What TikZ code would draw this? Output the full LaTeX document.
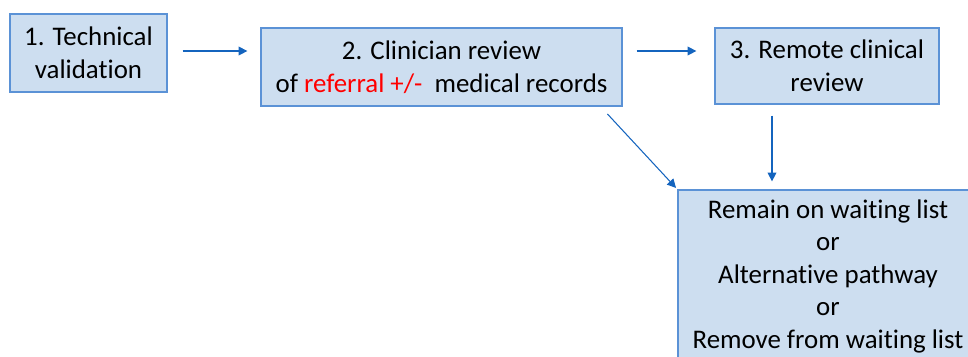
\documentclass[tikz,border=0pt]{standalone}
\usepackage{fontspec}
\setmainfont[Ligatures=NoCommon]{Carlito}
\usetikzlibrary{arrows.meta,calc}
\definecolor{boxfill}{RGB}{205,222,240}
\definecolor{boxline}{RGB}{91,146,214}
\definecolor{arrowblue}{RGB}{20,100,190}
\tikzset{
  stagebox/.style={draw=boxline, line width=0.7pt, fill=boxfill, inner sep=0pt, align=center,
    font=\fontsize{15.3}{18.5}\selectfont},
  flow/.style={draw=arrowblue, line width=0.6pt, -{Triangle[width=5pt,length=5pt]}}
}
\begin{document}
\begin{tikzpicture}[x=0.02cm, y=-0.02cm]
\useasboundingbox (0,0) rectangle (968,356);
\clip (0,0) rectangle (968,356);
\node[stagebox, minimum width=157*0.02cm, minimum height=78*0.02cm] (b1) at (88.5, 53) {1. Technical\\validation};
\node[stagebox, minimum width=361*0.02cm, minimum height=78*0.02cm] (b2) at (441.5, 67) {2. Clinician review\\of \textcolor{red}{referral +/-}\ \ medical records};
\node[stagebox, minimum width=224*0.02cm, minimum height=76*0.02cm] (b3) at (827, 66) {3. Remote clinical\\review};
\node[stagebox, minimum width=300*0.02cm, minimum height=172*0.02cm] (b4) at (828, 276) {Remain on waiting list\\or\\Alternative pathway\\or\\Remove from waiting list};
% connectors
\coordinate (v3) at ($(b3.south)+(-55,0)$);
\draw[flow, shorten <=15*0.02cm, shorten >=13*0.02cm] ($(b1.east)+(0,-2)$) -- ($(b1.east -| b2.west)+(0,-2)$);
\draw[flow, shorten <=14*0.02cm, shorten >=18*0.02cm] ($(b2.east)+(0,-16)$) -- ($(b2.east -| b3.west)+(0,-16)$);
\draw[flow, shorten <=10*0.02cm, shorten >=2*0.02cm] ($(b2.south east)+(-22,0)$) -- (b4.north west);
\draw[flow, shorten <=11*0.02cm, shorten >=8*0.02cm] (v3) -- (v3 |- b4.north);
\end{tikzpicture}
\end{document}
